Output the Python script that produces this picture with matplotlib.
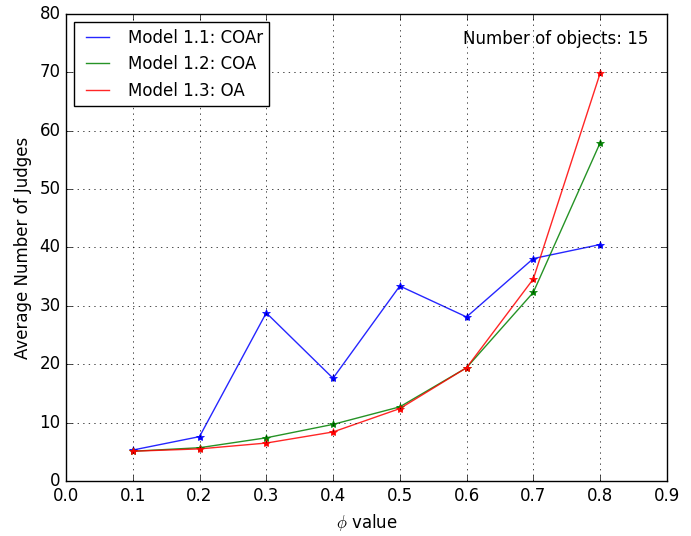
import matplotlib
matplotlib.use("Agg")
import matplotlib.pyplot as plt

phi = [0.1, 0.2, 0.3, 0.4, 0.5, 0.6, 0.7, 0.8]
coar = [5.3, 7.6, 28.8, 17.6, 33.4, 28.1, 38.1, 40.5]
coa = [5.1, 5.7, 7.4, 9.7, 12.7, 19.4, 32.3, 57.9]
oa = [5.1, 5.5, 6.5, 8.4, 12.4, 19.4, 34.6, 69.8]
labels = ["Model 1.1: COAr", "Model 1.2: COA", "Model 1.3: OA"]

plt.style.use("classic")
fig = plt.figure(figsize=(6.91, 5.36), dpi=100)
fig.patch.set_facecolor("white")
ax = fig.add_axes([0.0955, 0.1026, 0.8695, 0.8714])

# lines carry the legend entries, stars drawn on top without labels
for ys, c, lab in zip([coar, coa, oa], ["b", "g", "r"], labels):
    ax.plot(phi, ys, color=c, linewidth=1, alpha=0.85, label=lab)
    ax.plot(phi, ys, color=c, linestyle="none", marker="*", markersize=6,
            markeredgecolor=c)

ax.set_xlim(0, 0.9)
ax.set_ylim(0, 80)
ax.set_xticks([i / 10 for i in range(10)])
ax.grid(True)
ax.set_xlabel(r"$\phi$ value")
ax.set_ylabel("Average Number of Judges")
ax.text(0.97, 0.965, "Number of objects: 15", transform=ax.transAxes,
        ha="right", va="top", fontsize=12)
ax.legend(loc="upper left", fontsize=12)

fig.savefig("out.png", facecolor="white")
